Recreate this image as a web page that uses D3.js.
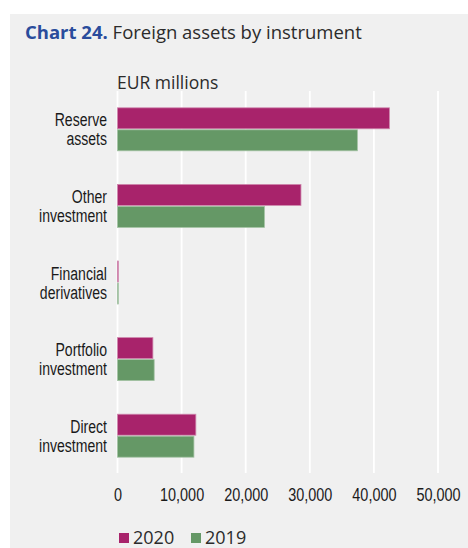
<!DOCTYPE html>
<html><head><meta charset="utf-8">
<script src="https://cdn.jsdelivr.net/npm/d3@7"></script>
<style>
html,body{margin:0;padding:0;background:#fff;}
svg{display:block;}
</style></head>
<body>
<script>
const categories = ["Reserve assets","Other investment","Financial derivatives","Portfolio investment","Direct investment"];
const labelLines = [["Reserve","assets"],["Other","investment"],["Financial","derivatives"],["Portfolio","investment"],["Direct","investment"]];
const seriesNames = ["2020","2019"];
const values2020 = [42500, 28700, 100, 5600, 12300];
const values2019 = [37500, 23000, 60, 5800, 12000];
const tickValues = [0,10000,20000,30000,40000,50000];
const colors = ["#a8236b","#659866"];
const strokes = ["#cf87ad","#a3c2a3"];

const W=468,H=548;
const svg=d3.select("body").append("svg").attr("width",W).attr("height",H);
svg.append("rect").attr("x",10).attr("y",14).attr("width",W-10).attr("height",H-14).attr("fill","#f0f0f0");

// title
const title=svg.append("text").attr("x",25).attr("y",39).attr("font-family","Open Sans").attr("font-size",18.5);
title.append("tspan").attr("font-weight","bold").attr("fill","#2a4c9c").text("Chart 24.");
title.append("tspan").attr("fill","#2b2b2b").text(" Foreign assets by instrument");

svg.append("text").attr("x",117).attr("y",89).attr("font-family","Open Sans").attr("font-size",17.5)
  .attr("fill","#2b2b2b").text("EUR millions");

const x=d3.scaleLinear().domain([0,50000]).range([117.5,438]);
const y=d3.scaleBand().domain(categories).range([91,474]).paddingInner(0.426).paddingOuter(0.213);
const ys=d3.scaleBand().domain(seriesNames).range([0,y.bandwidth()]);

// grid
svg.append("g").selectAll("line").data(tickValues).join("line")
  .attr("x1",d=>x(d)).attr("x2",d=>x(d)).attr("y1",91).attr("y2",473)
  .attr("stroke","#ffffff").attr("stroke-width",1.8);

// bars
const data=categories.map((c,i)=>({c,vals:[values2020[i],values2019[i]]}));
const g=svg.append("g");
data.forEach(d=>{
  seriesNames.forEach((s,j)=>{
    g.append("rect").attr("x",x(0)).attr("y",y(d.c)+ys(s)+0.5)
      .attr("width",Math.max(0.8,x(d.vals[j])-x(0)-0.5)).attr("height",ys.bandwidth()-1)
      .attr("fill",colors[j]).attr("stroke",strokes[j]).attr("stroke-width",0.8);
  });
});

// category labels (condensed look)
const lab=svg.append("g");
categories.forEach((c,i)=>{
  const cy=y(c)+y.bandwidth()/2;
  const t=lab.append("text").attr("transform",`translate(107,${cy}) scale(0.74,1)`)
    .attr("text-anchor","end").attr("font-family","Liberation Sans").attr("font-size",19).attr("fill","#1a1a1a");
  t.append("tspan").attr("x",0).attr("y",-3).text(labelLines[i][0]);
  t.append("tspan").attr("x",0).attr("y",16).text(labelLines[i][1]);
});

// x axis tick labels
const axis=d3.axisBottom(x).tickValues(tickValues).tickFormat(d3.format(",")).tickSize(0);
const ax=svg.append("g").attr("transform","translate(0,488)").call(axis);
ax.select(".domain").remove();
ax.selectAll("text").attr("font-family","Liberation Sans").attr("font-size",18.5).attr("fill","#1a1a1a")
  .attr("y",0).attr("dy","0.72em").attr("transform","scale(0.78,1)");

// legend
const leg=svg.append("g");
const legX=[119,191];
seriesNames.forEach((s,j)=>{
  leg.append("rect").attr("x",legX[j]).attr("y",533).attr("width",10).attr("height",10).attr("fill",colors[j]);
  leg.append("text").attr("x",legX[j]+14).attr("y",543.5).attr("font-family","Open Sans").attr("font-size",18)
    .attr("fill","#2b2b2b").text(s);
});
</script>
</body></html>
